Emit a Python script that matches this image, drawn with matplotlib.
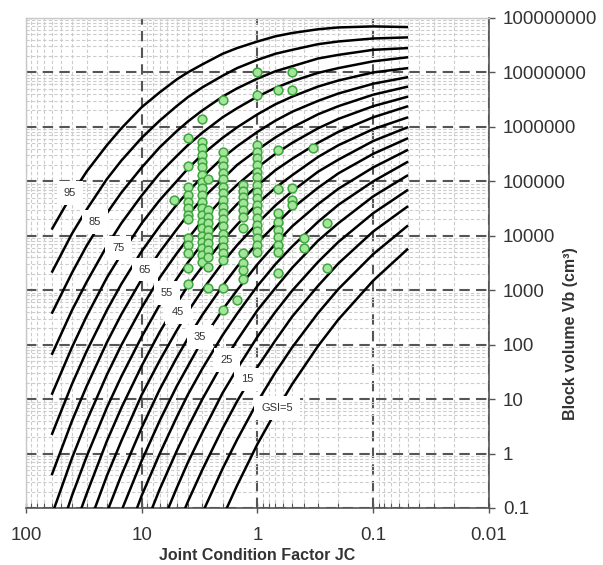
import numpy as np
import matplotlib
matplotlib.use("Agg")
import matplotlib.pyplot as plt
from matplotlib.ticker import FixedFormatter, FixedLocator, LogLocator, NullFormatter

plt.rcParams["font.family"] = ["Liberation Sans", "DejaVu Sans"]

nan = np.nan

# GSI contour lines: block volume Vb (cm3) at each joint condition factor JC
JC_GRID = [60, 40, 30, 20, 15, 10, 7, 5, 4, 3, 2, 1.5, 1, 0.7, 0.5, 0.3, 0.2, 0.1, 0.05]
GSI_LEVELS = [95, 90, 85, 80, 75, 70, 65, 60, 55, 50, 45, 40, 35, 30, 25, 20, 15, 10, 5]
VB_CURVES = [
    [1.3e4, 5.8e4, 1.5e5, 4.6e5, 9.4e5, 2.3e6, 4.3e6, 7.4e6, 1.0e7, 1.4e7,
     2.2e7, 2.8e7, 3.7e7, 4.6e7, 5.3e7, 6.2e7, 6.7e7, 7.0e7, 6.8e7],
    [2.1e3, 1.1e4, 3.0e4, 1.1e5, 2.4e5, 6.3e5, 1.3e6, 2.4e6, 3.5e6, 5.3e6,
     8.7e6, 1.2e7, 1.7e7, 2.2e7, 2.6e7, 3.3e7, 3.7e7, 4.2e7, 4.4e7],
    [3.7e2, 2.1e3, 6.5e3, 2.6e4, 6.2e4, 1.8e5, 4.2e5, 8.3e5, 1.25e6, 2.0e6,
     3.6e6, 5.1e6, 7.7e6, 1.05e7, 1.3e7, 1.8e7, 2.1e7, 2.6e7, 2.8e7],
    [65, 4.3e2, 1.4e3, 6.5e3, 1.7e4, 5.5e4, 1.4e5, 2.9e5, 4.6e5, 7.8e5,
     1.5e6, 2.2e6, 3.6e6, 5.2e6, 6.9e6, 9.8e6, 1.2e7, 1.6e7, 1.9e7],
    [12, 90, 3.3e2, 1.7e3, 4.6e3, 1.7e4, 4.5e4, 1.0e5, 1.7e5, 3.1e5,
     6.3e5, 9.8e5, 1.7e6, 2.6e6, 3.6e6, 5.5e6, 7.1e6, 1.0e7, 1.2e7],
    [2.2, 19, 75, 4.3e2, 1.3e3, 5.2e3, 1.5e4, 3.7e4, 6.4e4, 1.2e5,
     2.7e5, 4.4e5, 8.1e5, 1.3e6, 1.9e6, 3.0e6, 4.1e6, 6.2e6, 8.2e6],
    [0.40, 4.0, 17, 1.1e2, 3.6e2, 1.6e3, 5.0e3, 1.3e4, 2.4e4, 4.8e4,
     1.1e5, 2.0e5, 3.8e5, 6.4e5, 9.8e5, 1.7e6, 2.4e6, 3.9e6, 5.5e6],
    [0.073, 0.83, 3.9, 28, 98, 4.8e2, 1.7e3, 4.7e3, 8.8e3, 1.9e4,
     4.8e4, 8.6e4, 1.8e5, 3.2e5, 5.1e5, 9.4e5, 1.4e6, 2.4e6, 3.6e6],
    [0.013, 0.17, 0.87, 7.0, 26, 1.4e2, 5.4e2, 1.6e3, 3.2e3, 7.2e3,
     2.0e4, 3.8e4, 8.4e4, 1.6e5, 2.6e5, 5.1e5, 8.1e5, 1.5e6, 2.4e6],
    [nan, 0.033, 0.18, 1.7, 6.9, 41, 1.7e2, 5.6e2, 1.2e3, 2.7e3,
     8.1e3, 1.6e4, 3.9e4, 7.6e4, 1.3e5, 2.8e5, 4.6e5, 9.1e5, 1.5e6],
    [nan, nan, 0.038, 0.39, 1.7, 12, 51, 1.8e2, 4.0e2, 1.0e3,
     3.2e3, 6.7e3, 1.7e4, 3.6e4, 6.6e4, 1.5e5, 2.5e5, 5.5e5, 9.9e5],
    [nan, nan, nan, 0.083, 0.40, 3.0, 15, 57, 1.3e2, 3.5e2,
     1.2e3, 2.7e3, 7.4e3, 1.6e4, 3.2e4, 7.6e4, 1.4e5, 3.2e5, 6.2e5],
    [nan, nan, nan, nan, 0.088, 0.74, 4.0, 17, 40, 1.2e2,
     4.4e2, 1.0e3, 3.0e3, 7.1e3, 1.5e4, 3.8e4, 7.3e4, 1.8e5, 3.8e5],
    [nan, nan, nan, nan, 0.017, 0.17, 0.99, 4.6, 12, 36,
     1.5e2, 3.7e2, 1.2e3, 3.0e3, 6.4e3, 1.8e4, 3.7e4, 1.0e5, 2.3e5],
    [nan, nan, nan, nan, nan, 0.033, 0.22, 1.1, 3.0, 9.9,
     46, 1.2e2, 4.3e2, 1.1e3, 2.6e3, 8.1e3, 1.7e4, 5.3e4, 1.3e5],
    [nan, nan, nan, nan, nan, nan, 0.041, 0.23, 0.68, 2.4,
     13, 36, 1.4e2, 4.0e2, 9.9e2, 3.3e3, 7.7e3, 2.6e4, 7.0e4],
    [nan, nan, nan, nan, nan, nan, nan, 0.041, 0.13, 0.50,
     2.9, 9.1, 39, 1.2e2, 3.3e2, 1.2e3, 3.1e3, 1.2e4, 3.5e4],
    [nan, nan, nan, nan, nan, nan, nan, nan, nan, 0.080,
     0.53, 1.8, 8.9, 31, 90, 3.8e2, 1.05e3, 4.6e3, 1.55e4],
    [nan, nan, nan, nan, nan, nan, nan, nan, nan, nan,
     0.068, 0.26, 1.5, 5.8, 19, 94, 2.9e2, 1.5e3, 5.8e3],
]

# inline contour labels
LABEL_TEXT = ["95", "85", "75", "65", "55", "45", "35", "25", "15", "GSI=5"]
LABEL_JC = [41.7, 25.4, 16.0, 9.4, 6.05, 4.86, 3.14, 1.84, 1.23, 0.68]
LABEL_VB = [6.2e4, 1.8e4, 6.0e3, 2.4e3, 9.0e2, 4.0e2, 1.4e2, 53, 23, 6.9]

# measured blocks (JC, Vb)
PT_JC = (
    [5.3]
    + [4] * 13
    + [3] * 20
    + [2.67] * 11
    + [2] * 20
    + [1.5]
    + [1.33] * 11
    + [1] * 19
    + [0.67] * 10
    + [0.5] * 5
    + [0.4] * 2
    + [0.33]
    + [0.25] * 2
)
PT_VB = (
    [4.6e4]
    + [6.3e5, 1.9e5, 8.0e4, 5.7e4, 4.2e4, 3.3e4, 2.4e4, 2.0e4, 9.2e3, 6.8e3, 4.9e3, 2.6e3, 1.3e3]
    + [1.4e6, 5.3e5, 4.1e5, 3.1e5, 2.3e5, 1.8e5, 1.3e5, 9.8e4, 7.6e4, 5.7e4,
       4.2e4, 3.3e4, 2.4e4, 1.8e4, 1.4e4, 1.0e4, 7.8e3, 6.0e3, 4.5e3, 3.3e3]
    + [1.1e5, 3.0e4, 2.2e4, 1.7e4, 1.3e4, 9.6e3, 7.4e3, 5.5e3, 4.1e3, 2.7e3, 1.1e3]
    + [3.1e6, 3.4e5, 2.5e5, 1.9e5, 1.4e5, 1.1e5, 8.0e4, 6.2e4, 4.6e4, 3.4e4,
       2.6e4, 2.0e4, 1.5e4, 1.1e4, 8.4e3, 6.3e3, 4.9e3, 3.6e3, 1.1e3, 4.4e2]
    + [6.7e2]
    + [8.6e4, 6.7e4, 5.2e4, 4.0e4, 3.0e4, 2.2e4, 1.4e4, 4.9e3, 3.2e3, 2.4e3, 1.6e3]
    + [1.0e7, 3.9e6, 4.7e5, 3.5e5, 2.7e5, 2.0e5, 1.5e5, 1.2e5, 8.6e4, 6.4e4,
       5.0e4, 3.7e4, 2.8e4, 2.1e4, 1.6e4, 1.2e4, 9.2e3, 6.8e3, 5.1e3]
    + [4.8e6, 3.8e5, 7.3e4, 2.6e4, 1.8e4, 1.3e4, 9.6e3, 6.8e3, 5.1e3, 2.1e3]
    + [1.0e7, 4.8e6, 7.6e4, 4.6e4, 3.7e4]
    + [9.2e3, 6.0e3]
    + [4.1e5]
    + [1.7e4, 2.6e3]
)

X_TICKS = [100, 10, 1, 0.1, 0.01]
X_TICK_LABELS = ["100", "10", "1", "0.1", "0.01"]
Y_TICKS = [0.1, 1, 10, 100, 1e3, 1e4, 1e5, 1e6, 1e7, 1e8]
Y_TICK_LABELS = ["0.1", "1", "10", "100", "1000", "10000", "100000",
                 "1000000", "10000000", "100000000"]

TEXT_COLOR = "#333333"

fig = plt.figure(figsize=(6.03, 5.65), dpi=100)
ax = fig.add_axes([0.0431, 0.1009, 0.7678, 0.8673])
ax.set_xscale("log")
ax.set_yscale("log")
ax.set_xlim(100, 0.01)
ax.set_ylim(0.1, 1e8)

# decade and sub-decade grid
ax.xaxis.set_minor_locator(LogLocator(base=10, subs=np.arange(2, 10), numticks=30))
ax.yaxis.set_minor_locator(LogLocator(base=10, subs=np.arange(2, 10), numticks=30))
ax.xaxis.set_minor_formatter(NullFormatter())
ax.yaxis.set_minor_formatter(NullFormatter())
ax.grid(which="minor", color="#cccccc", linewidth=0.8, linestyle=(0, (3, 2)))
ax.grid(which="major", color="#555555", linewidth=1.5, linestyle=(0, (5, 3)))
ax.set_axisbelow(True)

for vb in VB_CURVES:
    ax.plot(JC_GRID, vb, color="black", linewidth=1.8, solid_capstyle="butt",
            solid_joinstyle="round", zorder=3)

ax.plot(PT_JC, PT_VB, linestyle="none", marker="o", markersize=6.3,
        markerfacecolor="#a3e59b", markeredgecolor="#3da63d", markeredgewidth=1.1, zorder=4)

# white label boxes break the contour lines around each value
for text, jc, vb in zip(LABEL_TEXT, LABEL_JC, LABEL_VB):
    ax.text(jc, vb, text, fontsize=8, color=TEXT_COLOR, ha="center", va="center", zorder=5,
            bbox=dict(facecolor="white", edgecolor="none", pad=5))

ax.xaxis.set_major_locator(FixedLocator(X_TICKS))
ax.xaxis.set_major_formatter(FixedFormatter(X_TICK_LABELS))
ax.yaxis.set_major_locator(FixedLocator(Y_TICKS))
ax.yaxis.set_major_formatter(FixedFormatter(Y_TICK_LABELS))
ax.yaxis.tick_right()

ax.tick_params(axis="x", which="major", direction="inout", length=7, width=1,
               color="#555555", labelcolor=TEXT_COLOR, labelsize=13.5, pad=10)
ax.tick_params(axis="x", which="minor", direction="in", length=3.5, width=0.8, color="#555555")
ax.tick_params(axis="y", which="major", direction="out", length=4, width=1,
               color="#555555", labelcolor=TEXT_COLOR, labelsize=13.5, pad=6)
ax.tick_params(axis="y", which="minor", length=0)

for side in ("left", "top"):
    ax.spines[side].set_color("#c8c8c8")
    ax.spines[side].set_linewidth(1.0)
for side in ("right", "bottom"):
    ax.spines[side].set_color("#555555")
    ax.spines[side].set_linewidth(1.2)

fig.text(257.5 / 603, 1 - 556 / 565, "Joint Condition Factor JC", ha="center", va="center",
         fontsize=11.5, fontweight="bold", color=TEXT_COLOR)
fig.text(570 / 603, 1 - 334 / 565, "Block volume Vb (cm\u00b3)", ha="center", va="center",
         rotation=90, fontsize=11.5, fontweight="bold", color=TEXT_COLOR)

fig.savefig("out.png", dpi=100)
